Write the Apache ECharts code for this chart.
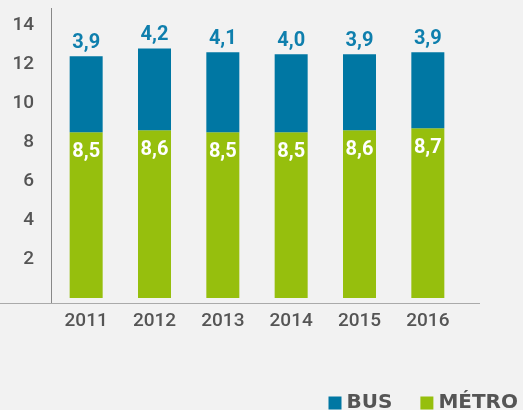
<!DOCTYPE html>
<html><head><meta charset="utf-8">
<script src="https://cdn.jsdelivr.net/npm/echarts@6/dist/echarts.min.js"></script>
<style>html,body{margin:0;padding:0;background:#f2f2f2}#c{width:523px;height:410px}</style>
</head><body><div id="c"></div>
<script>
const years = ['2011','2012','2013','2014','2015','2016'];
const metro = [8.5, 8.6, 8.5, 8.5, 8.6, 8.7];
const bus = [3.9, 4.2, 4.1, 4.0, 3.9, 3.9];
const yTicks = [2,4,6,8,10,12,14];

const chart = echarts.init(document.getElementById('c'));
const fmt = p => String(p.value.toFixed(1)).replace('.', ',');
const FONT = 'Roboto, sans-serif';
chart.setOption({
  backgroundColor: '#f2f2f2',
  animation: false,
  grid: {left: 52, right: 61, top: 25, bottom: 112},
  legend: {
    data: ['BUS', 'MÉTRO'], right: 0, bottom: -8, itemWidth: 13, itemHeight: 13, itemGap: 28,
    icon: 'rect',
    textStyle: {color: '#555', fontSize: 20, fontWeight: 'bold', fontFamily: '"DejaVu Sans", sans-serif'}
  },
  xAxis: {
    type: 'category', data: years,
    axisLine: {show: false}, axisTick: {show: false},
    axisLabel: {color: '#555', fontSize: 19, fontWeight: 500, fontFamily: FONT, margin: 14}
  },
  yAxis: {
    type: 'value', min: 0, max: 14, interval: 2,
    splitLine: {show: false}, axisLine: {show: false}, axisTick: {show: false},
    axisLabel: {color: '#555', fontSize: 19, fontWeight: 500, fontFamily: FONT, margin: 18,
      formatter: v => yTicks.includes(v) ? String(v) : ''}
  },
  graphic: [
    {type: 'line', shape: {x1: 0, y1: 303.5, x2: 480, y2: 303.5}, style: {stroke: '#aaa', lineWidth: 1}, z: 10},
    {type: 'line', shape: {x1: 51.5, y1: 8, x2: 51.5, y2: 303}, style: {stroke: '#888', lineWidth: 1}, z: 10}
  ],
  series: [
    {name: 'MÉTRO', type: 'bar', stack: 't', data: metro, barWidth: 33,
      itemStyle: {color: '#96bf0d'},
      label: {show: true, position: 'insideTop', distance: 10, formatter: fmt, color: '#fff', fontSize: 20, fontWeight: 'bold', fontFamily: FONT}},
    {name: 'BUS', type: 'bar', stack: 't', data: bus, barWidth: 33,
      itemStyle: {color: '#0077a3'},
      label: {show: true, position: 'top', distance: 3, formatter: fmt, color: '#0f7fad', fontSize: 20, fontWeight: 'bold', fontFamily: FONT}}
  ]
});
</script></body></html>
